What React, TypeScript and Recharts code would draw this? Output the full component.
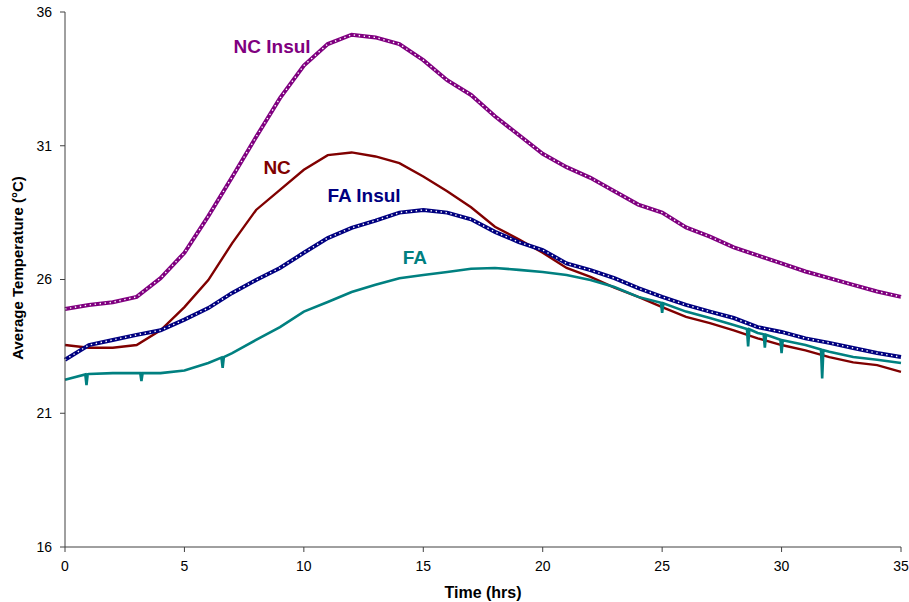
import { Line, LineChart, ReferenceDot, XAxis, YAxis } from 'recharts';

// hourly readings, 0..35 hrs
const hours = [0, 1, 2, 3, 4, 5, 6, 7, 8, 9, 10, 11, 12, 13, 14, 15, 16, 17, 18, 19, 20, 21, 22, 23, 24, 25, 26, 27, 28, 29, 30, 31, 32, 33, 34, 35];

const ncInsulTemps = [24.9, 25.05, 25.15, 25.35, 26.05, 27.0, 28.37, 29.83, 31.33, 32.78, 34.0, 34.8, 35.15, 35.05, 34.8, 34.2, 33.45, 32.9, 32.1, 31.4, 30.7, 30.2, 29.8, 29.3, 28.8, 28.5, 27.95, 27.6, 27.2, 26.9, 26.6, 26.3, 26.05, 25.8, 25.55, 25.35];
const ncTemps = [23.55, 23.45, 23.45, 23.55, 24.1, 24.97, 25.98, 27.36, 28.6, 29.35, 30.1, 30.65, 30.75, 30.6, 30.35, 29.85, 29.3, 28.7, 27.97, 27.5, 27.0, 26.43, 26.1, 25.7, 25.35, 24.97, 24.6, 24.37, 24.1, 23.8, 23.55, 23.35, 23.1, 22.9, 22.8, 22.55];
const faInsulTemps = [23.0, 23.55, 23.74, 23.93, 24.1, 24.5, 24.93, 25.5, 25.98, 26.43, 27.0, 27.55, 27.93, 28.2, 28.5, 28.6, 28.5, 28.25, 27.78, 27.4, 27.1, 26.6, 26.35, 26.05, 25.68, 25.35, 25.05, 24.8, 24.56, 24.22, 24.04, 23.8, 23.63, 23.44, 23.25, 23.1];

// FA has its own time base so the short sensor drop-outs show up
const faHours = [0, 0.85, 0.9, 0.95, 1, 2, 3, 3.15, 3.2, 3.25, 4, 5, 6, 6.55, 6.6, 6.65, 7, 8, 9, 10, 11, 12, 13, 14, 15, 16, 17, 18, 19, 20, 21, 22, 23, 24, 24.95, 25, 25.05, 26, 27, 28, 28.55, 28.6, 28.65, 29, 29.25, 29.3, 29.35, 29.95, 30, 30.05, 31, 31.65, 31.7, 31.75, 32, 33, 34, 35];
const faTemps = [22.25, 22.45, 22.05, 22.46, 22.47, 22.5, 22.5, 22.5, 22.2, 22.5, 22.5, 22.6, 22.88, 23.08, 22.7, 23.1, 23.25, 23.74, 24.22, 24.8, 25.16, 25.53, 25.8, 26.05, 26.17, 26.28, 26.4, 26.43, 26.36, 26.28, 26.17, 25.98, 25.72, 25.35, 25.13, 24.75, 25.11, 24.8, 24.56, 24.3, 24.15, 23.5, 24.14, 24.0, 23.95, 23.45, 23.93, 23.75, 23.25, 23.73, 23.55, 23.38, 22.3, 23.36, 23.3, 23.1, 23.0, 22.88];

const timeTicks = [0, 5, 10, 15, 20, 25, 30, 35];
const tempTicks = [16, 21, 26, 31, 36];

const toPoints = (xs: number[], ys: number[]) => xs.map((t, i) => ({ t, v: ys[i] }));

const ncInsul = toPoints(hours, ncInsulTemps);
const nc = toPoints(hours, ncTemps);
const faInsul = toPoints(hours, faInsulTemps);
const fa = toPoints(faHours, faTemps);

const FONT = '"Liberation Sans", Arial, sans-serif';
const AXIS = '#404040';

const seriesLabels = [
  { text: 'NC Insul', t: 8.67, v: 34.73, color: '#800080' },
  { text: 'NC', t: 8.88, v: 30.21, color: '#800000' },
  { text: 'FA Insul', t: 12.52, v: 29.16, color: '#000080' },
  { text: 'FA', t: 14.65, v: 26.84, color: '#008080' },
];

export default function App() {
  return (
    <div style={{ position: 'absolute', left: 0, top: 0, width: 909, height: 602, background: '#fff', fontFamily: FONT }}>
      <LineChart width={909} height={602} margin={{ top: 12, right: 8, bottom: 0, left: 0 }}>
        <XAxis
          dataKey="t"
          type="number"
          domain={[0, 35]}
          ticks={timeTicks}
          allowDuplicatedCategory={false}
          height={55}
          tickSize={5}
          tickMargin={9}
          stroke={AXIS}
          tick={{ fill: '#000', fontSize: 14, fontFamily: FONT }}
          label={{ value: 'Time (hrs)', position: 'insideBottom', offset: 4, fill: '#000', fontSize: 16, fontWeight: 'bold', fontFamily: FONT }}
        />
        <YAxis
          dataKey="v"
          type="number"
          domain={[16, 36]}
          ticks={tempTicks}
          width={65}
          tickSize={5}
          tickMargin={8}
          stroke={AXIS}
          tick={{ fill: '#000', fontSize: 14, fontFamily: FONT }}
          label={{
            content: () => (
              <text x={17} y={268} transform="rotate(-90 17 268)" textAnchor="middle" dominantBaseline="central" fill="#000" fontSize={15} fontWeight="bold" fontFamily={FONT}>
                Average Temperature (°C)
              </text>
            ),
          }}
        />
        <Line data={nc} dataKey="v" type="linear" stroke="#800000" strokeWidth={2.4} dot={false} isAnimationActive={false} />
        <Line data={fa} dataKey="v" type="linear" stroke="#008080" strokeWidth={2.6} dot={false} isAnimationActive={false} />
        <Line data={faInsul} dataKey="v" type="linear" stroke="#000080" strokeWidth={4} dot={false} isAnimationActive={false} />
        <Line data={faInsul} dataKey="v" type="linear" stroke="#fff" strokeWidth={1.4} strokeDasharray="1.4 3.6" dot={false} isAnimationActive={false} />
        <Line data={ncInsul} dataKey="v" type="linear" stroke="#800080" strokeWidth={4} dot={false} isAnimationActive={false} />
        <Line data={ncInsul} dataKey="v" type="linear" stroke="#fff" strokeWidth={1.4} strokeDasharray="1.4 3.6" dot={false} isAnimationActive={false} />
        {seriesLabels.map((s) => (
          <ReferenceDot
            key={s.text}
            x={s.t}
            y={s.v}
            r={0}
            stroke="none"
            fill="none"
            label={{ value: s.text, position: 'center', fill: s.color, fontSize: 19, fontWeight: 'bold', fontFamily: FONT }}
          />
        ))}
      </LineChart>
    </div>
  );
}
